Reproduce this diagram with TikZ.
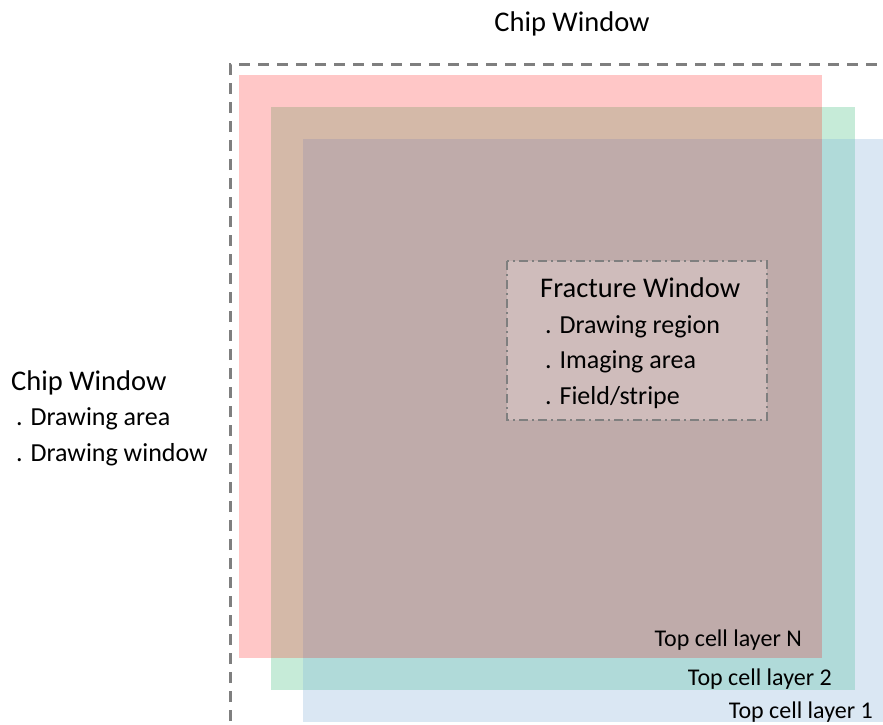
\documentclass[tikz,border=0pt]{standalone}
\usepackage{fontspec}
\setmainfont{Carlito}
\usepackage{xcolor}
\usepackage{tikz}
\usetikzlibrary{positioning}
\definecolor{layerN}{HTML}{FFC7C7}
\definecolor{layerTwo}{HTML}{C6EBD8}
\definecolor{layerOne}{HTML}{DAE7F3}
\definecolor{layerNTwo}{HTML}{D4B9A8}
\definecolor{layerTwoOne}{HTML}{B0DAD9}
\definecolor{layerAll}{HTML}{BFABAA}
\definecolor{fracfill}{HTML}{CFBCBB}
\definecolor{winline}{HTML}{7F7F7F}
\tikzset{
    txt/.style = {inner sep=0pt, font=\fontsize{26}{30}\selectfont},
    title/.style = {inner sep=0pt, font=\fontsize{28.5}{32}\selectfont},
    layertxt/.style = {inner sep=0pt, anchor=base east, font=\fontsize{24}{28}\selectfont}
}

\begin{document}
\begin{tikzpicture}[x=1pt, y=-1pt]
  \clip (0, 0) rectangle (883, 725);
  % layers
  \fill [layerOne] (303, 139) rectangle (890, 722);
  \fill [layerTwo] (271, 107) rectangle (855, 690);
  \fill [layerN] (239, 75) rectangle (822, 658);
  \fill [layerTwoOne] (822, 139) rectangle (855, 690);
  \fill [layerTwoOne] (303, 658) rectangle (822, 690);
  \fill [layerNTwo] (271, 107) rectangle (822, 139);
  \fill [layerNTwo] (271, 139) rectangle (303, 658);
  \fill [layerAll] (303, 139) rectangle (822, 658);
  % chip window
  \draw [winline, line width=3pt, dash pattern=on 11pt off 8pt] (230, 740) -- (230, 65) -- (900, 65);
  % fracture window
  \draw [winline, fill=fracfill, line width=2.2pt, dash pattern=on 9pt off 4pt on 2pt off 4pt] (507, 261) rectangle (767, 420);
  \node [title, anchor=base] (0) at (572, 32) {Chip Window};
  \node [title, anchor=base west] (1) at (11, 390) {Chip Window};
  \node [txt, anchor=base west] (2) at (16, 425) {. Drawing area};
  \node [txt, anchor=base west] (3) at (16, 461) {. Drawing window};
  \node [title, anchor=base west] (4) at (540, 297) {Fracture Window};
  \node [txt, anchor=base west] (5) at (545, 333) {. Drawing region};
  \node [txt, anchor=base west] (6) at (545, 368) {. Imaging area};
  \node [txt, anchor=base west] (7) at (545, 404) {. Field/stripe};
  \node [layertxt] (8) at (802, 646) {Top cell layer N};
  \node [layertxt] (9) at (832, 685) {Top cell layer 2};
  \node [layertxt] (10) at (873, 718) {Top cell layer 1};
\end{tikzpicture}
\end{document}
